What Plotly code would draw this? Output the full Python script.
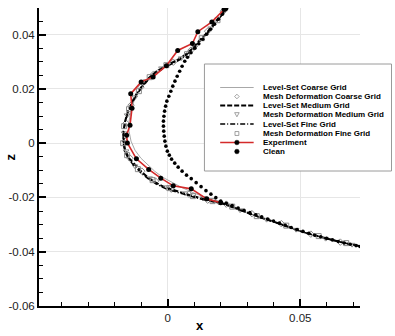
import plotly.graph_objects as go

# ---------------- data ----------------
exp_x = [0.02126, 0.01667, 0.01137, 0.00933, 0.00378, -0.00048, -0.00548, -0.0100, -0.01393, -0.01344,
         -0.01419, -0.01548, -0.01519, -0.01178, -0.00715, -0.00259, 0.00211, 0.00889, 0.0147, 0.0200]
exp_z = [0.04925, 0.04468, 0.04107, 0.03672, 0.03414, 0.02855, 0.02442, 0.02258, 0.01816, 0.01289,
         0.00663, 0.00295, 0.0001, -0.00578, -0.00969, -0.01289, -0.01573, -0.01683, -0.02052, -0.02199]

clean_x = [0.02359, 0.02211, 0.02063, 0.01915, 0.01767, 0.01619, 0.0147, 0.01322, 0.01174, 0.01026,
           0.00878, 0.00748, 0.00644, 0.00544, 0.00452, 0.00359, 0.00274, 0.00193, 0.00119, 0.00044,
           -0.0003, -0.00078, -0.00115, -0.00141, -0.00159, -0.00159, -0.00148, -0.0013, -0.00104, -0.00067,
           -0.00011, 0.00063, 0.00148, 0.00267, 0.00396, 0.00544, 0.00711, 0.00889, 0.01074, 0.01259,
           0.01444, 0.0163, 0.01815, 0.0200, 0.02211, 0.02433, 0.02656, 0.02878, 0.0310, 0.03322,
           0.03544, 0.03767, 0.03989, 0.04211, 0.04433, 0.04656, 0.04878, 0.0510, 0.05322, 0.05544,
           0.05767, 0.05989, 0.06211, 0.06433, 0.06656, 0.06878, 0.0710, 0.07248]
clean_z = [0.0512, 0.04936, 0.04751, 0.04567, 0.04383, 0.04199, 0.04015, 0.03831, 0.03665, 0.03499,
           0.03333, 0.03168, 0.0302, 0.02836, 0.02652, 0.02468, 0.02284, 0.0210, 0.01915, 0.01731,
           0.01547, 0.01363, 0.01179, 0.00994, 0.0081, 0.00626, 0.00442, 0.00258, 0.00074, -0.0011,
           -0.00295, -0.00442, -0.00589, -0.00737, -0.00884, -0.01031, -0.01179, -0.01308, -0.01455, -0.01602,
           -0.0175, -0.01878, -0.02007, -0.02136, -0.02217, -0.02302, -0.02387, -0.02475, -0.0256, -0.02637,
           -0.02715, -0.02792, -0.02866, -0.02947, -0.03028, -0.03105, -0.03179, -0.03252, -0.03322, -0.03389,
           -0.03451, -0.0351, -0.03565, -0.03621, -0.03676, -0.03727, -0.03775, -0.03805]

ls_med_x = [0.02285, 0.01989, 0.01693, 0.01433, 0.01174, 0.00952, 0.00693, 0.00433, 0.00137, -0.00159,
            -0.00456, -0.00715, -0.00937, -0.01159, -0.01344, -0.01493, -0.01604, -0.01659, -0.01659, -0.01604,
            -0.01456, -0.01233, -0.00974, -0.00715, -0.00419, -0.00122, 0.00211, 0.00581, 0.00952, 0.01322,
            0.01693, 0.02063, 0.02507, 0.02989, 0.03507, 0.04015, 0.04507, 0.0500, 0.05507, 0.06015,
            0.06619, 0.07248]
ls_med_z = [0.05046, 0.04678, 0.04309, 0.04015, 0.03757, 0.03499, 0.03278, 0.03094, 0.02947, 0.02799,
            0.02615, 0.02394, 0.02136, 0.01842, 0.0151, 0.01179, 0.0081, 0.00442, 0.00074, -0.00258,
            -0.00552, -0.0081, -0.01068, -0.01289, -0.01473, -0.01621, -0.01731, -0.01842, -0.01952, -0.02044,
            -0.02136, -0.0221, -0.02376, -0.0256, -0.02744, -0.02899, -0.03075, -0.03241, -0.03389, -0.03525,
            -0.03665, -0.03794]

ls_fine_x = [0.02285, 0.01989, 0.01693, 0.01433, 0.01174, 0.00952, 0.00693, 0.00433, 0.00137, -0.00159,
             -0.00456, -0.00715, -0.00937, -0.01159, -0.01344, -0.01493, -0.01604, -0.01678, -0.01678, -0.01622,
             -0.01474, -0.01252, -0.00993, -0.00715, -0.00419, -0.00122, 0.00211, 0.00581, 0.00952, 0.01322,
             0.01693, 0.02063, 0.02507, 0.02989, 0.03507, 0.04015, 0.04507, 0.0500, 0.05507, 0.06015,
             0.06619, 0.07248]
ls_fine_z = [0.05009, 0.04641, 0.04273, 0.03978, 0.0372, 0.03462, 0.03241, 0.03057, 0.0291, 0.02762,
             0.02578, 0.02357, 0.02099, 0.01805, 0.01473, 0.01142, 0.00773, 0.00405, 0.00037, -0.00295,
             -0.00589, -0.00847, -0.01105, -0.01326, -0.0151, -0.01657, -0.01768, -0.01878, -0.01989, -0.02081,
             -0.02155, -0.02228, -0.02387, -0.02567, -0.02748, -0.02902, -0.03079, -0.03245, -0.03392, -0.03528,
             -0.03669, -0.03797]

ls_coarse_x = [0.02322, 0.02026, 0.0173, 0.0147, 0.01211, 0.00952, 0.00693, 0.00433, 0.00137, -0.00159,
               -0.00456, -0.00715, -0.00937, -0.01122, -0.0127, -0.01381, -0.01456, -0.01456, -0.01381, -0.01233,
               -0.01011, -0.00752, -0.00493, -0.00196, 0.00137, 0.00507, 0.00915, 0.01322, 0.01693, 0.02063,
               0.02507, 0.02989, 0.03507, 0.04015, 0.04507, 0.0500, 0.05507, 0.06015, 0.06619, 0.07248]
ls_coarse_z = [0.05046, 0.04678, 0.04309, 0.04015, 0.03757, 0.03536, 0.03315, 0.03131, 0.02983, 0.02836,
               0.02652, 0.02431, 0.02173, 0.01878, 0.01547, 0.01179, 0.0081, 0.00442, 0.00074, -0.00258,
               -0.00552, -0.0081, -0.01031, -0.01252, -0.01436, -0.01621, -0.01805, -0.01971, -0.02099, -0.0221,
               -0.02376, -0.0256, -0.02744, -0.02899, -0.03075, -0.03241, -0.03389, -0.03525, -0.03665, -0.03794]

md_coarse_x = [0.0210, 0.01507, 0.00878, 0.00211, -0.0053, -0.01011, -0.01381, -0.01567, -0.01604, -0.01419,
               -0.00974, -0.00456, 0.00137, 0.00804, 0.01507, 0.02211, 0.03174, 0.04285, 0.05396, 0.06507]
md_coarse_z = [0.04862, 0.04125, 0.03425, 0.02983, 0.02541, 0.02063, 0.0140, 0.00737, 0.00074, -0.00552,
               -0.01031, -0.0140, -0.01694, -0.01878, -0.02099, -0.02247, -0.02597, -0.02965, -0.03352, -0.03646]

md_med_x = [0.02211, 0.01619, 0.01026, 0.00507, -0.00233, -0.00826, -0.01233, -0.0153, -0.01641, -0.01567,
            -0.01233, -0.00678, -0.00048, 0.00656, 0.01322, 0.01915, 0.0273, 0.0373, 0.04841, 0.05952, 0.06952]
md_med_z = [0.04972, 0.04236, 0.03536, 0.03131, 0.02762, 0.02284, 0.01694, 0.01031, 0.00368, -0.00295,
            -0.00847, -0.01289, -0.01621, -0.01842, -0.02026, -0.02173, -0.02468, -0.02818, -0.03186, -0.03517, -0.03738]

md_fine_x = [0.01878, 0.01285, 0.0073, -0.00048, -0.00678, -0.01085, -0.01456, -0.01641, -0.01678, -0.0153,
             -0.01122, -0.00567, 0.00063, 0.00952, 0.01693, 0.02433, 0.03359, 0.0447, 0.05693, 0.0673]
md_fine_z = [0.0453, 0.03867, 0.03278, 0.02873, 0.02431, 0.01915, 0.01252, 0.00626, 0.0, -0.00442,
             -0.00958, -0.01363, -0.01657, -0.01952, -0.02136, -0.02339, -0.02689, -0.03039, -0.03425, -0.03683]

legend_labels = ["Level-Set Coarse Grid", "Mesh Deformation Coarse Grid", "Level-Set Medium Grid",
                 "Mesh Deformation Medium Grid", "Level-Set Fine Grid", "Mesh Deformation Fine Grid",
                 "Experiment", "Clean"]

y_tickvals = [-0.06, -0.04, -0.02, 0, 0.02, 0.04]
y_ticktext = ["-0.06", "-0.04", "-0.02", "0", "0.02", "0.04"]
y_minor = [-0.055, -0.05, -0.045, -0.035, -0.03, -0.025, -0.015, -0.01, -0.005,
           0.005, 0.01, 0.015, 0.025, 0.03, 0.035, 0.045]
x_tickvals = [0, 0.05]
x_ticktext = ["0", "0.05"]
x_minor = [-0.04, -0.03, -0.02, -0.01, 0.01, 0.02, 0.03, 0.04, 0.06, 0.07]

# ---------------- figure ----------------
W, H = 395, 336
ML, MR, MT, MB = 34, 35, 8, 30
PW, PH = W - ML - MR, H - MT - MB

GRAY_MK = "#8a8a8a"
RED = "#d42a2a"

fig = go.Figure()
fig.add_trace(go.Scatter(x=ls_coarse_x, y=ls_coarse_z, mode="lines",
                         line=dict(color="#a8a8a8", width=1), name=legend_labels[0]))
fig.add_trace(go.Scatter(x=md_coarse_x, y=md_coarse_z, mode="markers",
                         marker=dict(symbol="diamond-open", size=5, color=GRAY_MK, line=dict(width=1)),
                         name=legend_labels[1]))
fig.add_trace(go.Scatter(x=ls_med_x, y=ls_med_z, mode="lines",
                         line=dict(color="black", width=2, dash="5px,2px"), name=legend_labels[2]))
fig.add_trace(go.Scatter(x=md_med_x, y=md_med_z, mode="markers",
                         marker=dict(symbol="triangle-down-open", size=5, color=GRAY_MK, line=dict(width=1)),
                         name=legend_labels[3]))
fig.add_trace(go.Scatter(x=ls_fine_x, y=ls_fine_z, mode="lines",
                         line=dict(color="black", width=1.5, dash="5px,2px,1px,2px"), name=legend_labels[4]))
fig.add_trace(go.Scatter(x=md_fine_x, y=md_fine_z, mode="markers",
                         marker=dict(symbol="square-open", size=5, color=GRAY_MK, line=dict(width=1)),
                         name=legend_labels[5]))
fig.add_trace(go.Scatter(x=clean_x, y=clean_z, mode="markers",
                         marker=dict(symbol="circle", size=3.6, color="black"), name=legend_labels[7]))
fig.add_trace(go.Scatter(x=exp_x, y=exp_z, mode="lines+markers",
                         line=dict(color=RED, width=1.6),
                         marker=dict(symbol="circle", size=5, color="black"), name=legend_labels[6]))


def px_x(p):
    return (p - ML) / PW


def px_y(p):
    return (H - MB - p) / PH


shapes = []
annotations = []

# legend box
shapes.append(dict(type="rect", xref="paper", yref="paper",
                   x0=px_x(202), x1=px_x(392), y0=px_y(171), y1=px_y(64),
                   fillcolor="white", line=dict(color="#9a9a9a", width=1), layer="above"))

rows = [87.5, 96.5, 105.5, 114.5, 124, 133.5, 142.5, 151.5]
sx0, sx1, sxc = 218, 252, 235
dx = 2.3 / PW
dy = 2.3 / PH

# line samples
shapes.append(dict(type="line", xref="paper", yref="paper", x0=px_x(sx0), x1=px_x(sx1),
                   y0=px_y(rows[0]), y1=px_y(rows[0]), line=dict(color="#a8a8a8", width=1), layer="above"))
shapes.append(dict(type="line", xref="paper", yref="paper", x0=px_x(sx0), x1=px_x(sx1),
                   y0=px_y(rows[2]), y1=px_y(rows[2]), line=dict(color="black", width=2, dash="5px,2px"),
                   layer="above"))
shapes.append(dict(type="line", xref="paper", yref="paper", x0=px_x(sx0), x1=px_x(sx1),
                   y0=px_y(rows[4]), y1=px_y(rows[4]),
                   line=dict(color="black", width=1.3, dash="5px,2px,1px,2px"), layer="above"))
shapes.append(dict(type="line", xref="paper", yref="paper", x0=px_x(sx0), x1=px_x(sx1),
                   y0=px_y(rows[6]), y1=px_y(rows[6]), line=dict(color=RED, width=1.6), layer="above"))

# marker samples
cx, cy = px_x(sxc), px_y(rows[1])
shapes.append(dict(type="path", xref="paper", yref="paper",
                   path=f"M {cx} {cy+dy} L {cx+dx} {cy} L {cx} {cy-dy} L {cx-dx} {cy} Z",
                   line=dict(color=GRAY_MK, width=0.8), layer="above"))
cx, cy = px_x(sxc), px_y(rows[3])
shapes.append(dict(type="path", xref="paper", yref="paper",
                   path=f"M {cx-dx} {cy+dy*0.8} L {cx+dx} {cy+dy*0.8} L {cx} {cy-dy} Z",
                   line=dict(color=GRAY_MK, width=0.8), layer="above"))
cx, cy = px_x(sxc), px_y(rows[5])
shapes.append(dict(type="rect", xref="paper", yref="paper",
                   x0=cx - dx * 0.85, x1=cx + dx * 0.85, y0=cy - dy * 0.85, y1=cy + dy * 0.85,
                   line=dict(color=GRAY_MK, width=0.8), layer="above"))
for r in (rows[6], rows[7]):
    cx, cy = px_x(sxc), px_y(r)
    shapes.append(dict(type="circle", xref="paper", yref="paper",
                       x0=cx - dx, x1=cx + dx, y0=cy - dy, y1=cy + dy,
                       fillcolor="black", line=dict(color="black", width=0.5), layer="above"))

for lab, r in zip(legend_labels, rows):
    annotations.append(dict(text=f"<b>{lab}</b>", xref="paper", yref="paper",
                            x=px_x(259), y=px_y(r), xanchor="left", yanchor="middle",
                            showarrow=False, font=dict(family="Arial, Liberation Sans", size=8, color="black")))

# axis titles
annotations.append(dict(text="<b>x</b>", xref="paper", yref="paper", x=px_x(197), y=px_y(325),
                        xanchor="center", yanchor="middle", showarrow=False,
                        font=dict(family="Arial, Liberation Sans", size=13, color="black")))
annotations.append(dict(text="<b>z</b>", xref="paper", yref="paper", x=px_x(5), y=px_y(157),
                        xanchor="center", yanchor="middle", showarrow=False, textangle=-90,
                        font=dict(family="Arial, Liberation Sans", size=13, color="black")))

axis_common = dict(showline=True, linecolor="black", linewidth=2, mirror=False,
                   ticks="inside", ticklen=7, tickwidth=2, tickcolor="black",
                   showgrid=True, gridcolor="#e6e6e6", gridwidth=1, zeroline=False,
                   tickfont=dict(family="Arial, Liberation Sans", size=11.5, color="#222"),
                   tickmode="array")

fig.update_layout(
    width=W, height=H,
    margin=dict(l=ML, r=MR, t=MT, b=MB),
    paper_bgcolor="white", plot_bgcolor="white",
    showlegend=False,
    shapes=shapes, annotations=annotations,
    xaxis=dict(range=[-0.0485, 0.0725], tickvals=x_tickvals, ticktext=x_ticktext,
               minor=dict(tickmode="array", tickvals=x_minor, ticks="inside", ticklen=4,
                          tickwidth=1, tickcolor="black", showgrid=False),
               **axis_common),
    yaxis=dict(range=[-0.06, 0.0498], tickvals=y_tickvals, ticktext=y_ticktext,
               minor=dict(tickmode="array", tickvals=y_minor, ticks="inside", ticklen=4,
                          tickwidth=1, tickcolor="black", showgrid=False),
               **axis_common),
)

fig.write_html("out.html")
